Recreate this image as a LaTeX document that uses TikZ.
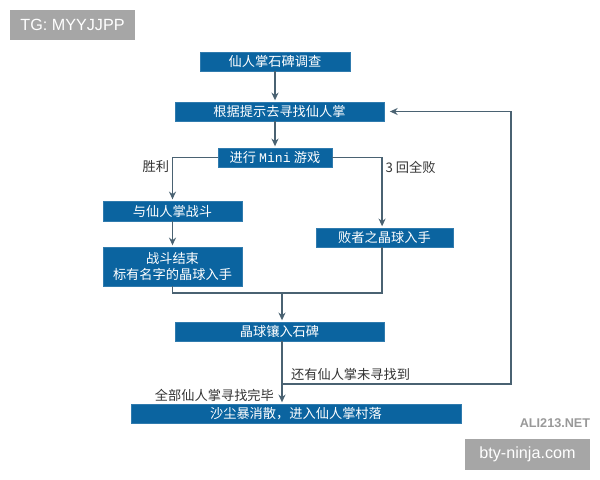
\documentclass[tikz,border=0pt]{standalone}
\usepackage{fontspec}
\setmainfont{Noto Sans CJK SC}
\setmonofont{Liberation Mono}
\newfontfamily\latinsans{Liberation Sans}
\usetikzlibrary{arrows.meta}

\definecolor{boxblue}{HTML}{0B64A0}
\definecolor{flowline}{HTML}{4A6272}
\definecolor{marktext}{HTML}{333333}

\begin{document}
\begin{tikzpicture}[x=0.025cm, y=-0.025cm,
        step box/.style={fill=boxblue, draw=boxblue!85!white, text=white, inner sep=0pt,
            minimum height=0.475cm, font=\fontsize{9.4}{11.5}\selectfont, align=center},
        flow/.style={draw=flowline, line width=0.9pt},
        arr/.style={flow, -{Stealth[length=5.5pt, width=5pt]}, shorten >=1pt},
        cond/.style={text=marktext, inner sep=2pt, font=\fontsize{9.4}{11.5}\selectfont},
        tag/.style={fill=black!35, text=white, inner sep=0pt, minimum height=0.75cm,
            minimum width=3.125cm, font=\latinsans\fontsize{11.5}{13}\selectfont}]

        \useasboundingbox (0, 0) rectangle (600, 480);

        \node[step box, minimum width=3.75cm] (survey) at (275, 61.5) {仙人掌石碑调查};
        \node[step box, minimum width=5.225cm] (search) at (279.5, 111.5) {根据提示去寻找仙人掌};
        \node[step box, minimum width=2.85cm] (game) at (275, 157.5) {进行 \texttt{Mini} 游戏};
        \node[step box, minimum width=3.475cm, minimum height=0.5cm] (fight) at (172.5, 211) {与仙人掌战斗};
        \node[step box, minimum width=3.425cm] (lose) at (384.5, 237.5) {败者之晶球入手};
        \node[step box, minimum width=3.475cm, minimum height=0.975cm] (win) at (172.5, 266.5) {战斗结束\\标有名字的晶球入手};
        \node[step box, minimum width=5.225cm] (inlay) at (279.5, 331.5) {晶球镶入石碑};
        \node[step box, minimum width=8.25cm] (village) at (296, 413.5) {沙尘暴消散，进入仙人掌村落};

        \coordinate (merge) at (282, 293);
        \coordinate (back) at (282, 384);
        \coordinate (backcorner) at (511, 384);

        \draw[arr] (survey.south) -- (survey.south |- search.north);
        \draw[arr] (search.south -| game.north) -- (game.north);
        \draw[arr] (game.west) -| node[cond, pos=0.5, below left] (winlabel) {胜利} (fight.north);
        \draw[arr] (game.east) -| node[cond, pos=0.5, below right] (loselabel) {3 回全败} ([xshift=-0.06cm]lose.north);
        \draw[arr] (fight) -- (win);
        \draw[flow] (win.south) |- (merge) -| ([xshift=-0.06cm]lose.south);
        \draw[arr] (merge) -- (merge |- inlay.north);
        \draw[arr] (back |- inlay.south) -- (back |- village.north);
        \draw[arr, shorten >=4pt] (back) -- (backcorner) |- (search.east);

        \node[cond, above right] (morelabel) at ([xshift=0.15cm]back) {还有仙人掌未寻找到};
        \node[cond, left] (donelabel) at (277, 395) {全部仙人掌寻找完毕};

        % watermarks
        \node[tag] (tgmark) at (72.5, 25) {TG: MYYJJPP};
        \node[tag] (sitemark) at (527.5, 454.5) {bty-ninja.com};
        \node[text=black!40, font=\latinsans\bfseries\fontsize{9}{10}\selectfont, inner sep=0pt] (alimark) at (555, 423) {ALI213.NET};
    \end{tikzpicture}
\end{document}
